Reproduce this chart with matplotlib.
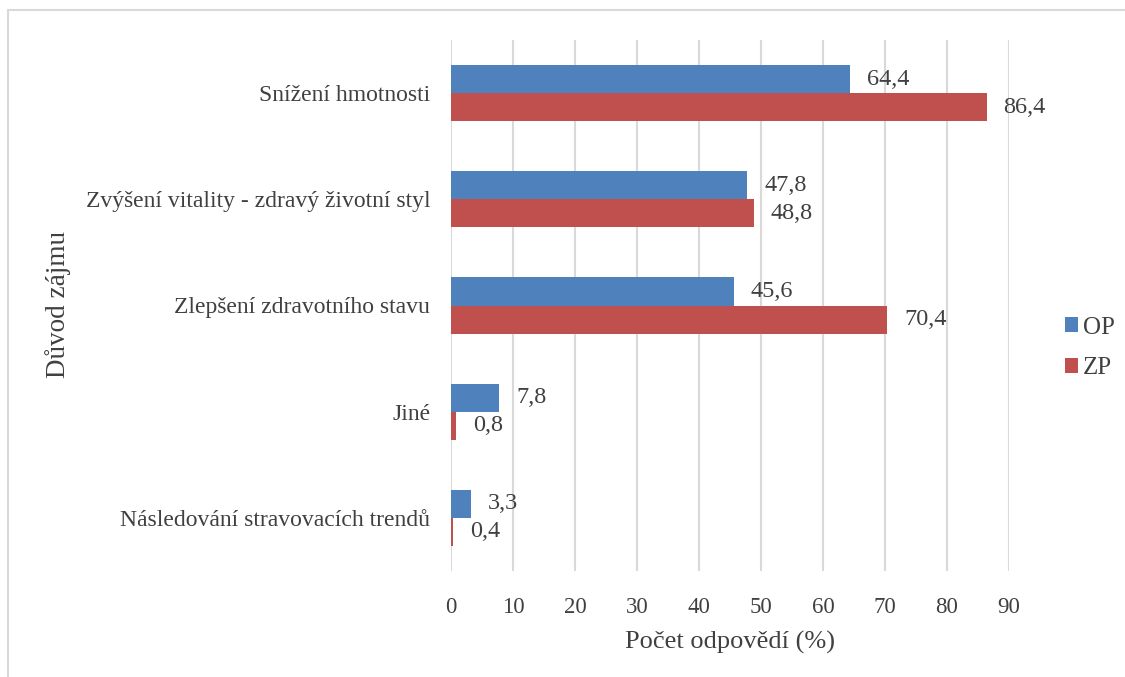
import matplotlib.pyplot as plt
import numpy as np
from matplotlib.patches import Rectangle

plt.rcParams['font.family'] = ['Liberation Serif', 'DejaVu Serif']

# data
duvody = ["Snížení hmotnosti",
          "Zvýšení vitality - zdravý životní styl",
          "Zlepšení zdravotního stavu",
          "Jiné",
          "Následování stravovacích trendů"]
op = [64.4, 47.8, 45.6, 7.8, 3.3]
zp = [86.4, 48.8, 70.4, 0.8, 0.4]
x_ticks = [0, 10, 20, 30, 40, 50, 60, 70, 80, 90]

MODRA = "#4F81BD"
CERVENA = "#C0504D"
TEXT = "#404040"
SEDA = "#D9D9D9"

fig = plt.figure(figsize=(11.25, 6.77), dpi=100)
ax = fig.add_axes([451 / 1125, 1 - 571 / 677, (1009 - 451) / 1125, (571 - 40) / 677])

# ramecek kolem grafu
fig.patches.append(Rectangle((8 / 1125, -0.1), 1.2, 1 - 10 / 677 + 0.1,
                             transform=fig.transFigure, fill=False,
                             edgecolor=SEDA, linewidth=1.5))

y = np.arange(len(duvody))
h = 0.264
b1 = ax.barh(y - h / 2, op, height=h, color=MODRA, label="OP", zorder=3)
b2 = ax.barh(y + h / 2, zp, height=h, color=CERVENA, label="ZP", zorder=3)

for bars in (b1, b2):
    for r in bars:
        w = r.get_width()
        ax.annotate(f"{w:.1f}".replace(".", ","),
                    (w, r.get_y() + r.get_height() / 2),
                    xytext=(12, 0), textcoords="offset points",
                    va="center", ha="left", fontsize=17.5, color=TEXT,
                    annotation_clip=False)

ax.set_ylim(len(duvody) - 0.5, -0.5)
ax.set_xlim(0, 90)
ax.set_xticks(x_ticks)
ax.set_yticks(y)
ax.set_yticklabels(duvody)
ax.tick_params(axis="y", length=0, pad=15, labelsize=17, labelcolor=TEXT)
ax.tick_params(axis="x", length=0, pad=19, labelsize=16.5, labelcolor=TEXT)
ax.grid(axis="x", color=SEDA, linewidth=1.5, zorder=0)
for s in ax.spines.values():
    s.set_visible(False)

ax.set_xlabel("Počet odpovědí (%)", fontsize=19, color=TEXT, labelpad=9)
fig.text(58 / 1125, 1 - 305 / 677, "Důvod zájmu", rotation=90,
         ha="center", va="center", fontsize=19.5, color=TEXT)

fig.legend(handles=[b1, b2], loc="center left",
           bbox_to_anchor=(1042 / 1125, 1 - 348 / 677), frameon=False,
           fontsize=18, handlelength=0.55, handleheight=0.55,
           handletextpad=0.2, labelspacing=0.75, labelcolor=TEXT)

fig.savefig("out.png", dpi=100)
